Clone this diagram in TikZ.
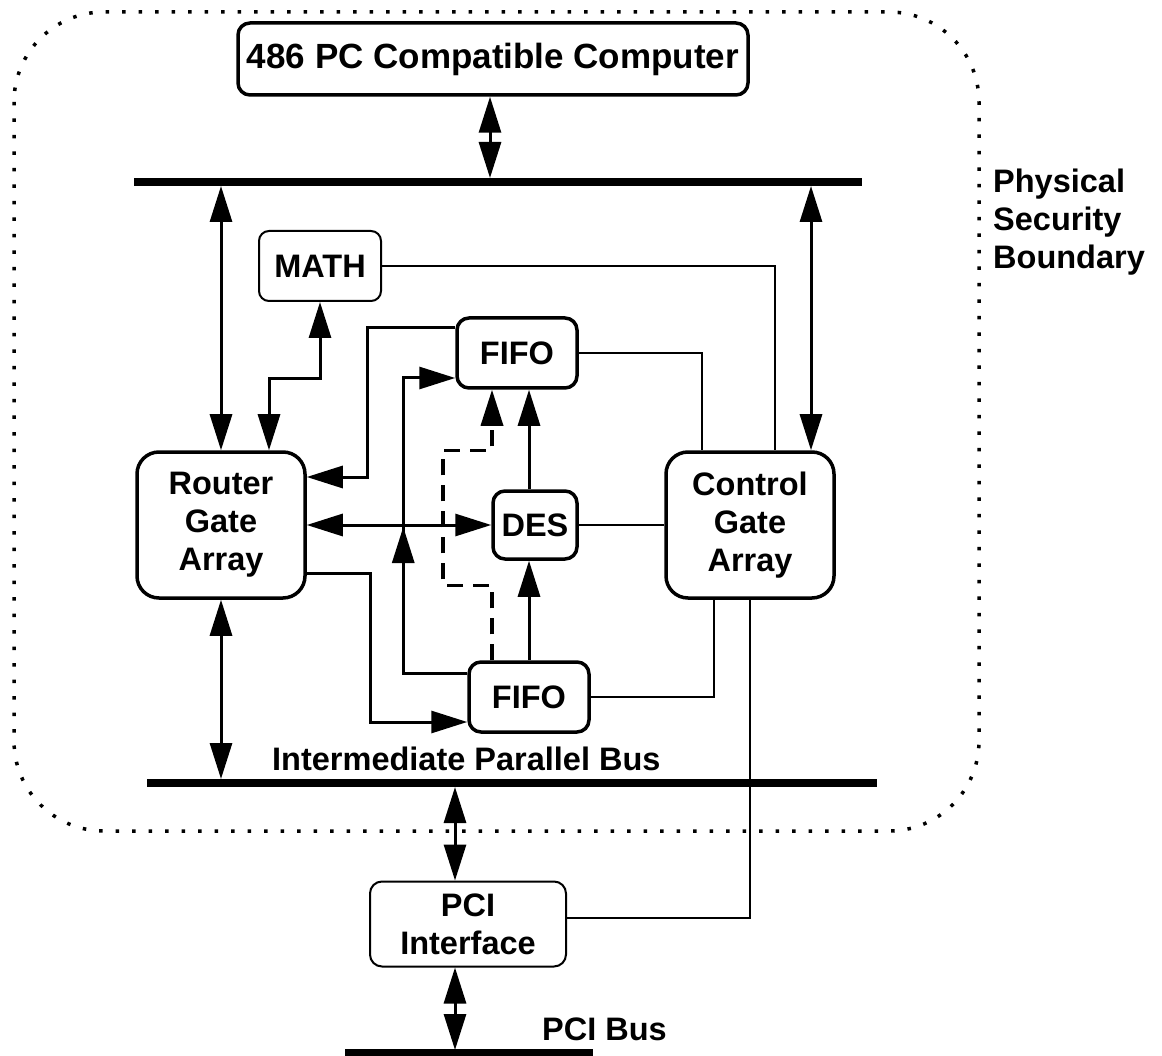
\documentclass[tikz,border=0pt]{standalone}
\usepackage{fontspec}
\setmainfont{Liberation Sans}
\usetikzlibrary{arrows.meta,calc}
\begin{document}
\begin{tikzpicture}[x=1pt,y=-1pt,
  font=\fontsize{32.5}{38}\selectfont\bfseries,
  box/.style={draw, line width=3.5pt, rounded corners=12pt, inner sep=0pt, align=center},
  bigbox/.style={box, rounded corners=22pt, minimum width=168pt, minimum height=146pt},
  tbox/.style={box, line width=2pt},
  bus/.style={line width=7.5pt},
  arr/.style={line width=3pt, -{Triangle[length=36pt,width=22pt]}},
  dbl/.style={line width=3pt, {Triangle[length=36pt,width=22pt]}-{Triangle[length=36pt,width=22pt]}},
  wire/.style={line width=1.5pt},
  dsh/.style={line width=3.5pt, dash pattern=on 16pt off 10pt, -{Triangle[length=36pt,width=22pt]}},
  lbl/.style={inner sep=0pt, align=left}
]
\useasboundingbox (0,0) rectangle (1162,1056);

% physical security boundary
\draw[line width=3.5pt, dash pattern=on 3.5pt off 13pt, rounded corners=90pt] (14,12) rectangle (979,831);
\node[lbl, anchor=north west] (psb) at (993,169) {Physical\\Security\\Boundary};

% nodes
\node[box, minimum width=510pt, minimum height=72pt, font=\fontsize{35}{40}\selectfont\bfseries] (pc) at (493,59) {486 PC Compatible Computer};
\node[tbox, rounded corners=10pt, minimum width=122pt, minimum height=70pt] (math) at (320,266) {MATH};
\node[box, minimum width=120pt, minimum height=70pt] (fifo1) at (517,353) {FIFO};
\node[bigbox] (router) at (221,525) {Router\\Gate\\Array};
\node[box, minimum width=84pt, minimum height=68pt] (des) at (535,525) {DES};
\node[bigbox] (control) at (750,525) {Control\\Gate\\Array};
\node[box, minimum width=120pt, minimum height=70pt] (fifo2) at (529,697) {FIFO};
\node[tbox, minimum width=196pt, minimum height=85pt] (pci) at (468,924) {PCI\\Interface};

% buses
\coordinate (b1l) at (134,182); \coordinate (b1r) at (862,182);
\coordinate (b2l) at (147,783); \coordinate (b2r) at (877,783);
\coordinate (pbl) at (345,1053); \coordinate (pbr) at (593,1053);
\draw[bus] (b1l) -- (b1r);
\draw[bus] (b2l) -- (b2r);
\draw[bus] (pbl) -- (pbr);
\node[inner sep=0pt, anchor=base west] (ipb) at (272,770) {Intermediate Parallel Bus};
\node[inner sep=0pt, anchor=base west] (pcib) at (542,1040) {PCI Bus};

% connectors
\draw[dbl] ($(pc.south)+(-3,0)$) -- ($(pc.south|-b1l)+(-3,-4)$);
\draw[dbl] ($(router.north|-b1l)+(0,4)$) -- (router.north);
\draw[dbl] ($(control.north|-b1l)+(61,4)$) -- ($(control.north)+(61,0)$);
\draw[wire] (math.east) -| ($(control.north)+(25,0)$);
\draw[wire] (fifo1.east) -| ($(control.north)+(-48,0)$);
\draw[dbl] (math.south) -- ++(0,77) -| ($(router.north)+(48,0)$);
\draw[arr] ($(fifo1.west)+(0,-25)$) -- ++(-88,0) |- ($(router.east)+(0,-48)$);
\draw[dbl] (router.east) -- (des.west);
\draw[wire] (des.east) -- (control.west);
\draw[arr] ($(des.north)+(-6,0)$) -- ($(des.north|-fifo1.south)+(-6,0)$);
\draw[arr] (fifo2.north) -- (fifo2.north|-des.south);
\draw[dsh] ($(fifo2.north)+(-37,0)$) -- ++(0,-75) -- ++(-49,0) -- ++(0,-135) -- ++(49,0) -- ($(fifo1.south)+(-25,0)$);
\draw[arr] ($(fifo2.west)+(0,-24)$) -- ++(-64,0) |- ($(fifo1.west)+(0,25)$);
\draw[arr] ($(fifo2.west)+(0,-24)$) -- ++(-64,0) -- ++(0,-146);
\draw[arr] ($(router.east)+(0,48)$) -- ++(64,0) |- ($(fifo2.west)+(0,25)$);
\draw[wire] (fifo2.east) -| ($(control.south)+(-36,0)$);
\draw[wire] (control.south) |- ($(pci.east)+(0,-6)$);
\draw[dbl] (router.south) -- ($(router.south|-b2l)+(0,-4)$);
\draw[dbl] ($(pci.north|-b2l)+(-13,4)$) -- ($(pci.north)+(-13,0)$);
\draw[dbl] ($(pci.south)+(-13,0)$) -- ($(pci.south|-pbl)+(-13,-3)$);
\end{tikzpicture}
\end{document}
